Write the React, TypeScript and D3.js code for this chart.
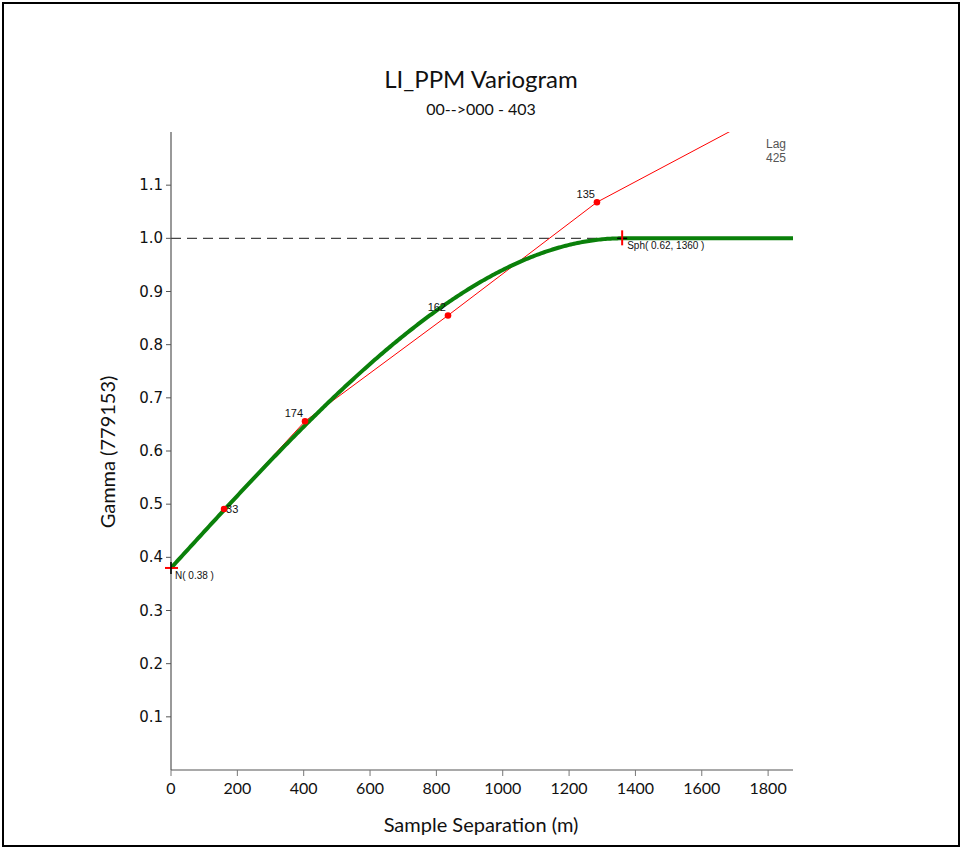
import React from "react";
import * as d3 from "d3";

const lagX = [160, 404, 835, 1284, 1712];
const lagGamma = [0.491, 0.656, 0.855, 1.068, 1.21];
const lagPairs = ["33", "174", "162", "135", ""];
const xTicks = [0, 200, 400, 600, 800, 1000, 1200, 1400, 1600, 1800];
const yTicks = [0.1, 0.2, 0.3, 0.4, 0.5, 0.6, 0.7, 0.8, 0.9, 1.0, 1.1];
const nugget = 0.38;
const sphSill = 0.62;
const sphRange = 1360;
const sill = 1.0;

const W = 962, H = 848;
const left = 171, right = 793, top = 132, bottom = 770;

export default function App() {
  const x = d3.scaleLinear().domain([0, 1875]).range([left, right]);
  const y = d3.scaleLinear().domain([0, 1.2]).range([bottom, top]);

  const model = (h: number) => {
    if (h >= sphRange) return nugget + sphSill;
    const r = h / sphRange;
    return nugget + sphSill * (1.5 * r - 0.5 * r * r * r);
  };
  const hs = d3.range(0, 1875.01, 5);
  const modelLine = d3.line<number>().x((h) => x(h)).y((h) => y(model(h)))(hs) || "";
  const expLine = d3.line<number>().x((_, i) => x(lagX[i])).y((_, i) => y(lagGamma[i]))(lagX) || "";

  const calibri = "Lato, 'Open Sans', sans-serif";
  const arial = "'Liberation Sans', Arial, sans-serif";

  return (
    <svg width={W} height={H} style={{ position: "absolute", left: 0, top: 0 }}>
      <rect x={0} y={0} width={W} height={H} fill="white" />
      <rect x={3} y={3} width={956} height={843} fill="none" stroke="#000" strokeWidth={2} />
      <defs>
        <clipPath id="plot">
          <rect x={left} y={top} width={right - left} height={bottom - top} />
        </clipPath>
      </defs>
      <text x={481} y={88} textAnchor="middle" fontFamily={calibri} fontSize={24} fill="#111">LI_PPM Variogram</text>
      <text x={481} y={115} textAnchor="middle" fontFamily={calibri} fontSize={16} fill="#111">00--&gt;000 - 403</text>

      {/* axes */}
      <line x1={left} x2={left} y1={top} y2={bottom} stroke="#555" strokeWidth={1.2} />
      <line x1={left} x2={right} y1={bottom} y2={bottom} stroke="#555" strokeWidth={1.2} />
      {yTicks.map((t) => (
        <g key={"y" + t}>
          <line x1={left - 5} x2={left} y1={y(t)} y2={y(t)} stroke="#555" />
          <text x={left - 8} y={y(t) + 5} textAnchor="end" fontFamily="'DejaVu Sans', sans-serif" fontSize={15} fill="#111">{t.toFixed(1)}</text>
        </g>
      ))}
      {xTicks.map((t) => (
        <g key={"x" + t}>
          <line x1={x(t)} x2={x(t)} y1={bottom} y2={bottom + 6} stroke="#777" />
          <text x={x(t)} y={bottom + 24} textAnchor="middle" fontFamily={calibri} fontSize={16} fill="#111">{t}</text>
        </g>
      ))}
      <text x={481} y={832} textAnchor="middle" fontFamily={calibri} fontSize={20} fill="#111">Sample Separation (m)</text>
      <text transform={`translate(115,452) rotate(-90)`} textAnchor="middle" fontFamily={calibri} fontSize={20} fill="#111">Gamma (779153)</text>

      {/* sill dashed */}
      <line x1={x(0)} x2={x(sphRange)} y1={y(sill)} y2={y(sill)} stroke="#444" strokeWidth={1.4} strokeDasharray="10,6" />

      <g clipPath="url(#plot)">
        <path d={expLine} fill="none" stroke="red" strokeWidth={1} />
        <path d={modelLine} fill="none" stroke="#0a800a" strokeWidth={4} />
        {lagX.map((lx, i) => (
          <circle key={"p" + i} cx={x(lx)} cy={y(lagGamma[i])} r={3.3} fill="red" />
        ))}
      </g>
      {lagX.map((lx, i) =>
        lagPairs[i] ? (
          <text
            key={"l" + i}
            x={i === 0 ? x(lx) + 2 : x(lx) - 2}
            y={i === 0 ? y(lagGamma[i]) + 4 : y(lagGamma[i]) - 4}
            textAnchor={i === 0 ? "start" : "end"}
            fontFamily={arial}
            fontSize={11}
            fill="#111"
          >
            {lagPairs[i]}
          </text>
        ) : null
      )}

      {/* nugget marker */}
      <line x1={x(0) - 6} x2={x(0) + 7} y1={y(nugget)} y2={y(nugget)} stroke="red" strokeWidth={2} />
      <line x1={x(0)} x2={x(0)} y1={y(nugget) - 6} y2={y(nugget) + 6} stroke="#000" strokeWidth={1.5} />
      <text x={x(0) + 4} y={y(nugget) + 11} fontFamily={arial} fontSize={10} fill="#111">N( 0.38 )</text>

      {/* sph marker */}
      <line x1={x(sphRange) - 5} x2={x(sphRange) + 5} y1={y(sill)} y2={y(sill)} stroke="#000" strokeWidth={1.5} />
      <line x1={x(sphRange)} x2={x(sphRange)} y1={y(sill) - 8} y2={y(sill) + 7} stroke="red" strokeWidth={2} />
      <text x={x(sphRange) + 5} y={y(sill) + 11} fontFamily={arial} fontSize={10} fill="#111">Sph( 0.62, 1360 )</text>

      <text x={776} y={148} textAnchor="middle" fontFamily={arial} fontSize={12} fill="#555">Lag</text>
      <text x={776} y={162} textAnchor="middle" fontFamily={arial} fontSize={12} fill="#555">425</text>
    </svg>
  );
}
